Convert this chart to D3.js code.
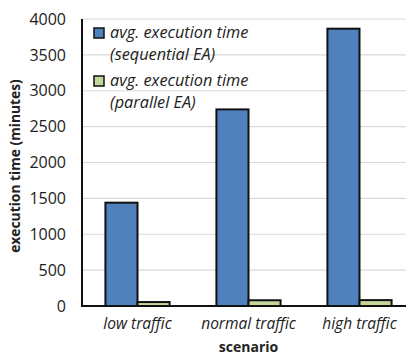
<!DOCTYPE html>
<html><head><meta charset="utf-8">
<script src="https://cdn.jsdelivr.net/npm/d3@7"></script>
<style>body{margin:0;background:#fff}svg{display:block}</style>
</head><body>
<svg id="c" width="406" height="355"></svg>
<script>
const categories = ["low traffic", "normal traffic", "high traffic"];
const seriesNames = ["avg. execution time|(sequential EA)", "avg. execution time|(parallel EA)"];
const sequential = [1440, 2740, 3865];
const parallel = [55, 80, 82];
const yTicks = [0, 500, 1000, 1500, 2000, 2500, 3000, 3500, 4000];
const colors = ["#4f81bd", "#c3d69b"];

const svg = d3.select("#c");
const m = {l: 82, r: -9, t: 19, b: 49};
const W = 406, H = 355;
const x0 = d3.scaleBand().domain(categories).range([m.l, W - m.r]).paddingInner(0).paddingOuter(0);
const x1 = d3.scaleBand().domain([0, 1]).range([0, x0.bandwidth()]).paddingOuter(0.73).paddingInner(0);
const y = d3.scaleLinear().domain([0, 4000]).range([H - m.b, m.t]);
const font = "'Open Sans', sans-serif";

// gridlines
svg.append("g").selectAll("line").data(yTicks.filter(d => d > 0)).join("line")
  .attr("x1", m.l).attr("x2", W).attr("y1", d => y(d)).attr("y2", d => y(d))
  .attr("stroke", "#d9d9d9").attr("stroke-width", 1.2);

// y axis labels
const ya = svg.append("g").attr("transform", `translate(${m.l},0)`)
  .call(d3.axisLeft(y).tickValues(yTicks).tickFormat(d3.format("d")).tickSize(0).tickPadding(16));
ya.select(".domain").remove();
ya.selectAll("text").attr("font-family", font).attr("font-size", 16).attr("fill", "#222");

// bars
const data = categories.map((c, i) => ({c, v: [sequential[i], parallel[i]]}));
const g = svg.append("g").selectAll("g").data(data).join("g")
  .attr("transform", d => `translate(${x0(d.c)},0)`);
g.selectAll("rect").data(d => d.v.map((v, k) => ({v, k}))).join("rect")
  .attr("x", d => x1(d.k)).attr("width", x1.bandwidth())
  .attr("y", d => y(d.v)).attr("height", d => y(0) - y(d.v))
  .attr("fill", d => colors[d.k]).attr("stroke", "#111").attr("stroke-width", 2);

// axis lines
svg.append("line").attr("x1", m.l).attr("x2", m.l).attr("y1", m.t).attr("y2", y(0))
  .attr("stroke", "#111").attr("stroke-width", 2);
svg.append("line").attr("x1", m.l - 1).attr("x2", W).attr("y1", y(0)).attr("y2", y(0))
  .attr("stroke", "#111").attr("stroke-width", 2);

// x axis labels
const xa = svg.append("g").attr("transform", `translate(0,${y(0)})`)
  .call(d3.axisBottom(x0).tickSize(0).tickPadding(12));
xa.select(".domain").remove();
xa.selectAll("text").attr("font-family", font).attr("font-size", 15.5).attr("font-style", "italic").attr("fill", "#222");

// axis titles
svg.append("text").attr("x", x0(categories[1]) + x0.bandwidth() / 2).attr("y", 352)
  .attr("text-anchor", "middle").attr("font-family", font).attr("font-weight", "bold")
  .attr("font-size", 14).attr("fill", "#222").text("scenario");
svg.append("text").attr("transform", "translate(20,166) rotate(-90)")
  .attr("text-anchor", "middle").attr("font-family", font).attr("font-weight", "bold")
  .attr("font-size", 13.8).attr("fill", "#222").text("execution time (minutes)");

// legend
const lg = svg.append("g").selectAll("g").data(seriesNames).join("g")
  .attr("transform", (d, i) => `translate(94,${28 + i * 48})`);
lg.append("rect").attr("width", 10).attr("height", 10)
  .attr("fill", (d, i) => colors[i]).attr("stroke", "#111").attr("stroke-width", 1.5);
lg.each(function(d) {
  const parts = d.split("|");
  const t = d3.select(this).append("text").attr("font-family", font).attr("font-style", "italic")
    .attr("font-size", 16.3).attr("fill", "#222");
  parts.forEach((p, j) => t.append("tspan").attr("x", 16).attr("y", 10 + j * 22).text(p));
});
</script>
</body></html>
